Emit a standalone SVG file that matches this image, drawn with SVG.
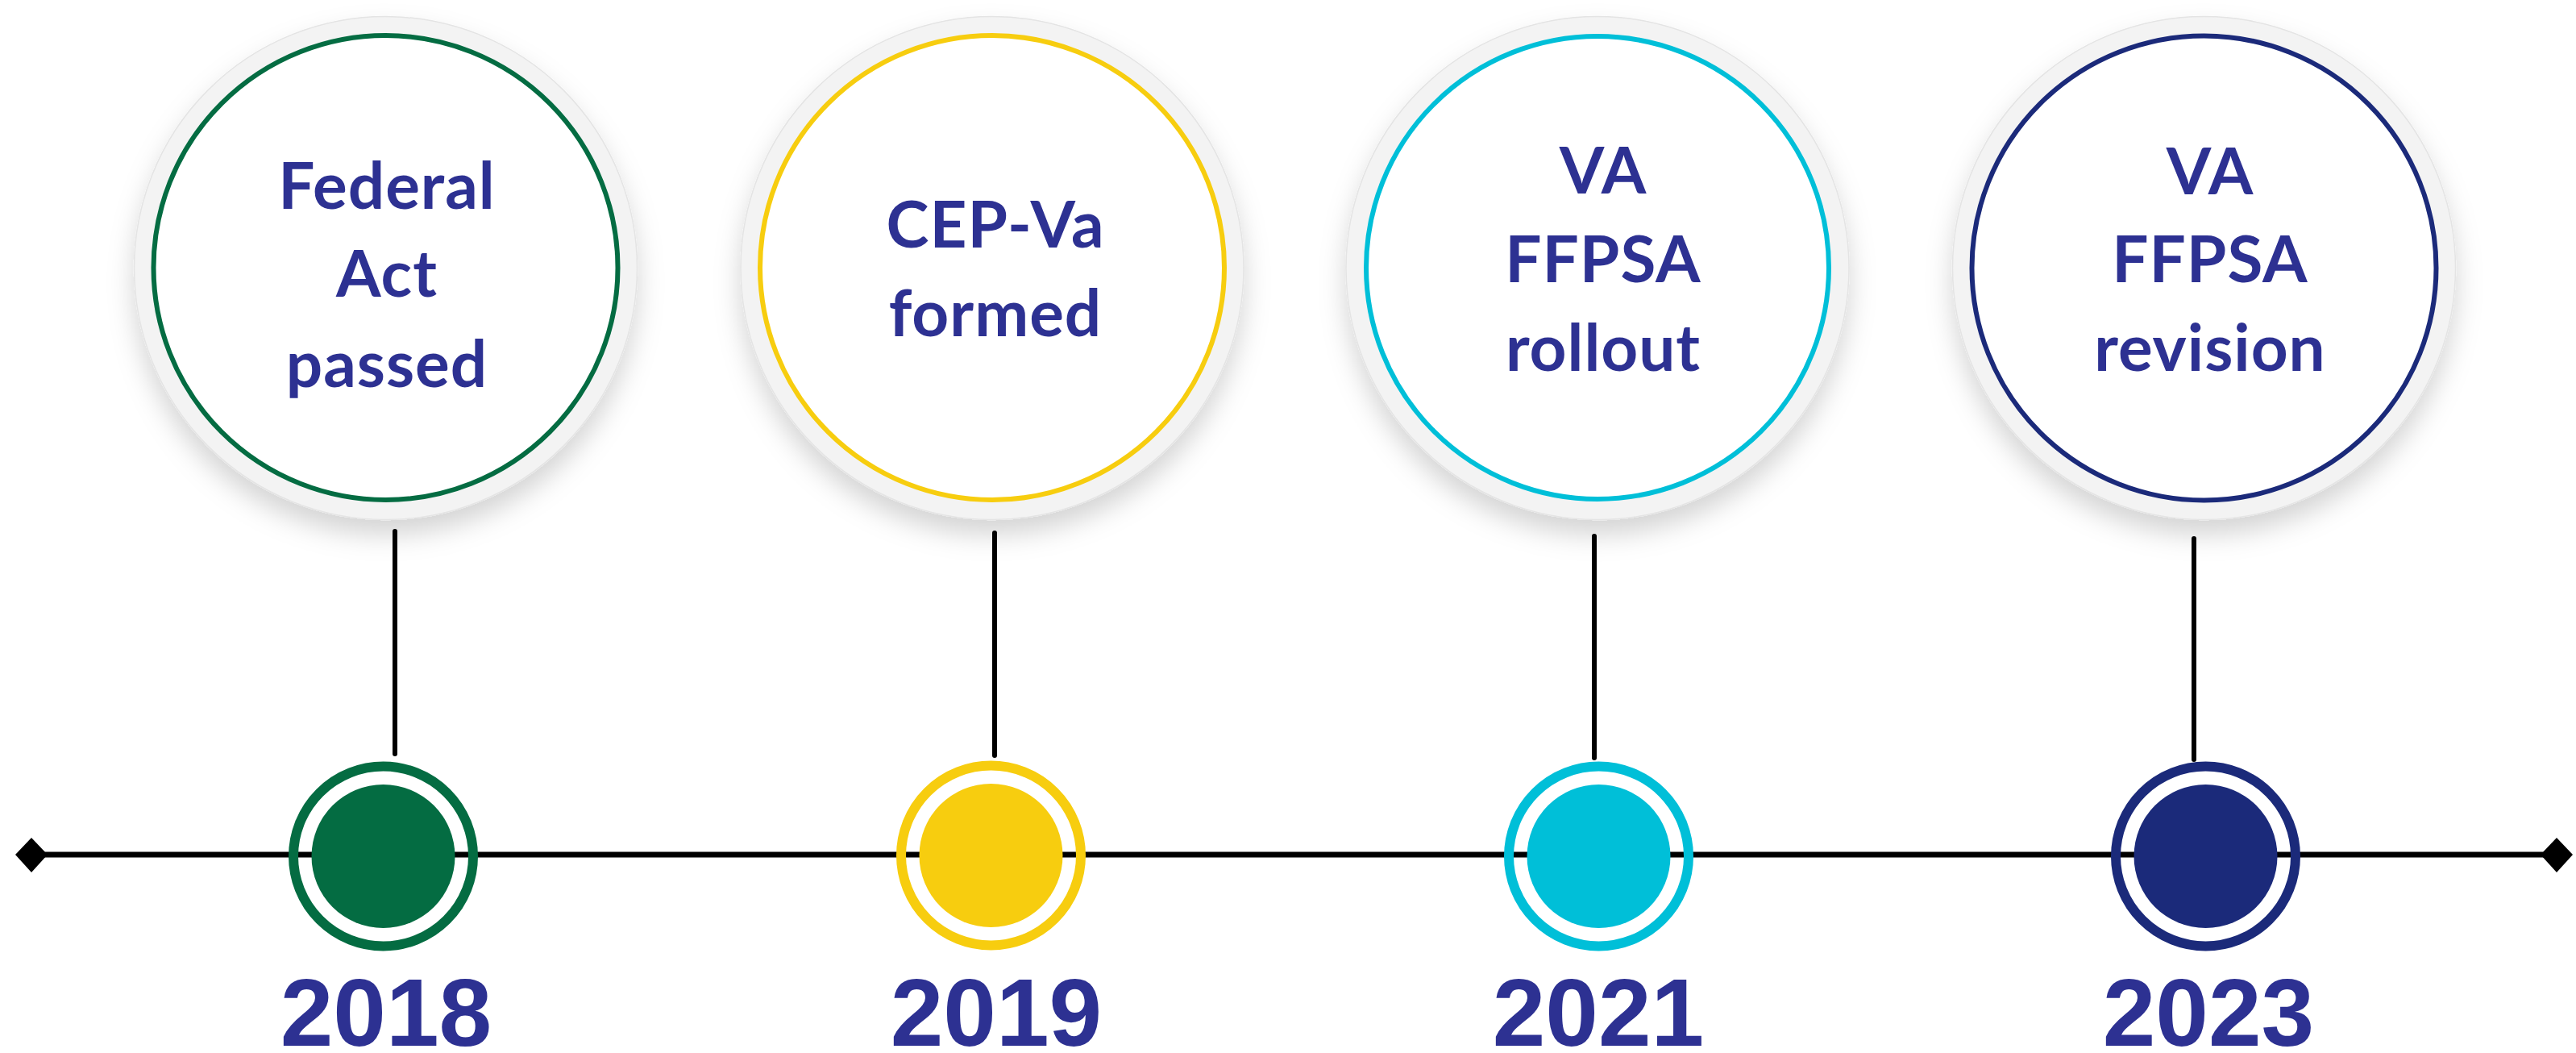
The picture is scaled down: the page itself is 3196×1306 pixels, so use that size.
<svg xmlns="http://www.w3.org/2000/svg" width="3196" height="1306" viewBox="0 0 3196 1306">
  <style>
    .halo { fill: #f3f3f3; stroke: #e4e4e4; stroke-width: 1.5; }
    .inner { fill: #ffffff; stroke-width: 6; }
    .label { font-family: Lato, "Noto Sans", sans-serif; font-weight: 700; font-size: 80px; letter-spacing: 1px; fill: #2d3192; text-anchor: middle; }
    .year { font-family: "Liberation Sans", Arial, sans-serif; font-weight: 700; font-size: 118px; fill: #2d3192; text-anchor: middle; }
    .ring { fill: none; stroke-width: 12; }
    .stem { stroke: #000; stroke-width: 6; stroke-linecap: round; fill: none; }
    .axis { stroke: #000; stroke-width: 7; fill: none; }
  </style>
  <defs>
    <filter id="shadow" x="-30%" y="-30%" width="160%" height="170%">
      <feDropShadow dx="0" dy="18" stdDeviation="16" flood-color="#000" flood-opacity="0.17"/>
    </filter>
  </defs>
  <rect width="3196" height="1306" fill="#ffffff"/>

  <g id="connectors">
    <line class="axis" x1="45" y1="1060" x2="3166" y2="1060"/>
    <polygon points="19,1060 39,1039 59,1060 39,1082" fill="#000"/>
    <polygon points="3152,1060 3172,1039 3192,1060 3172,1082" fill="#000"/>
    <line class="stem" x1="490" y1="659" x2="490" y2="935"/>
    <line class="stem" x1="1234" y1="661" x2="1234" y2="937"/>
    <line class="stem" x1="1978" y1="665" x2="1978" y2="940"/>
    <line class="stem" x1="2722" y1="668" x2="2722" y2="942"/>
  </g>

  <g id="event-2018">
    <circle class="halo" cx="478.5" cy="332.5" r="312" filter="url(#shadow)"/>
    <circle class="inner" cx="478.5" cy="332" r="288" stroke="#046c42"/>
    <text class="label" x="480" y="259">Federal</text>
    <text class="label" x="480" y="368">Act</text>
    <text class="label" x="480" y="480">passed</text>
    <circle class="ring" cx="475.5" cy="1062" r="111.5" stroke="#046c42"/>
    <circle cx="475.5" cy="1062" r="89" fill="#046c42"/>
    <text class="year" x="479" y="1297">2018</text>
  </g>

  <g id="event-2019">
    <circle class="halo" cx="1231" cy="332.5" r="312" filter="url(#shadow)"/>
    <circle class="inner" cx="1231" cy="332" r="288" stroke="#f7cd0f"/>
    <text class="label" x="1235" y="307">CEP-Va</text>
    <text class="label" x="1235" y="417">formed</text>
    <circle class="ring" cx="1229.5" cy="1061" r="111.5" stroke="#f7cd0f"/>
    <circle cx="1229.5" cy="1061" r="89" fill="#f7cd0f"/>
    <text class="year" x="1236" y="1297">2019</text>
  </g>

  <g id="event-2021">
    <circle class="halo" cx="1982" cy="332.5" r="312" filter="url(#shadow)"/>
    <circle class="inner" cx="1982" cy="332" r="287" stroke="#00bfd8"/>
    <text class="label" x="1989" y="240">VA</text>
    <text class="label" x="1989" y="350">FFPSA</text>
    <text class="label" x="1989" y="460">rollout</text>
    <circle class="ring" cx="1983.5" cy="1062" r="111.5" stroke="#00bfd8"/>
    <circle cx="1983.5" cy="1062" r="89" fill="#00bfd8"/>
    <text class="year" x="1983" y="1297">2021</text>
  </g>

  <g id="event-2023">
    <circle class="halo" cx="2734.5" cy="332.5" r="312" filter="url(#shadow)"/>
    <circle class="inner" cx="2734.5" cy="332.5" r="288" stroke="#1b2a7a"/>
    <text class="label" x="2742" y="241">VA</text>
    <text class="label" x="2742" y="350">FFPSA</text>
    <text class="label" x="2742" y="460">revision</text>
    <circle class="ring" cx="2736.5" cy="1062" r="111.5" stroke="#1b2a7a"/>
    <circle cx="2736.5" cy="1062" r="89" fill="#1b2a7a"/>
    <text class="year" x="2740" y="1297">2023</text>
  </g>
</svg>
